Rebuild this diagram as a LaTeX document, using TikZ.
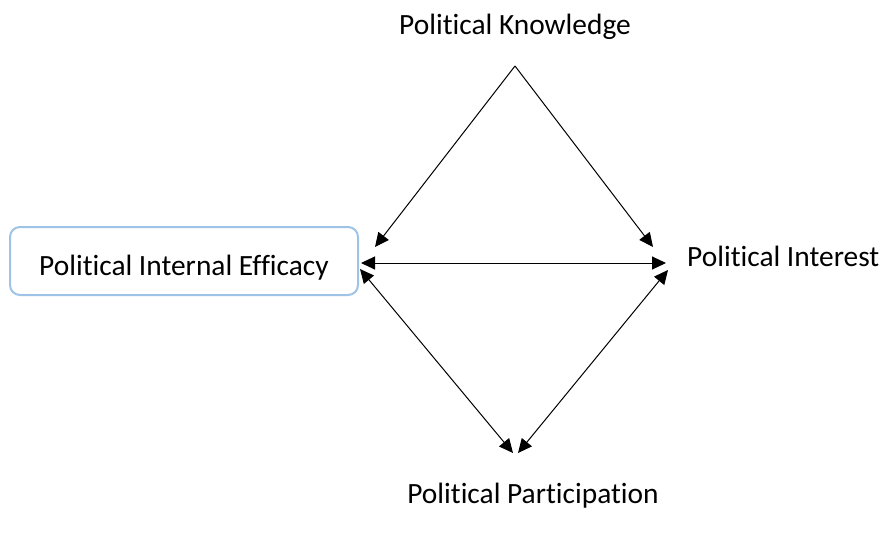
\documentclass[tikz,border=0pt]{standalone}
\usepackage{fontspec}
\setmainfont{Carlito}[Ligatures={NoCommon}]
\usetikzlibrary{arrows.meta}
\definecolor{boxblue}{HTML}{9DC3E6}
\begin{document}
\begin{tikzpicture}[x=1pt,y=-1pt,
  lbl/.style={font=\fontsize{29.4}{34}\selectfont, inner sep=0pt, anchor=base},
  conn/.style={line width=1pt, -{Triangle[length=14pt,width=13pt]}},
  bconn/.style={line width=1pt, {Triangle[length=14pt,width=13pt]}-{Triangle[length=14pt,width=13pt]}},
  efbox/.style={draw=boxblue, line width=2pt, rounded corners=10pt, minimum width=348pt, minimum height=68pt}]
\useasboundingbox (0,0) rectangle (882,548);
\node[lbl] (know) at (515,35) {Political Knowledge};
\node[efbox] (eff) at (184,261) {};
\node[lbl] (efft) at (184,275) {Political Internal Efficacy};
\node[lbl, anchor=base west] (int) at (687,266) {Political Interest};
\node[lbl] (part) at (533,503) {Political Participation};
\coordinate (apex) at (515,66);
\coordinate (kl) at (375,247);
\coordinate (kr) at (653,247);
\coordinate (el) at (361,263);
\coordinate (er) at (666,263);
\coordinate (eb) at (360,269);
\coordinate (pl) at (513,453);
\coordinate (pr) at (518,453);
\coordinate (ib) at (668,270);
\draw[conn] (apex) -- (kl);
\draw[conn] (apex) -- (kr);
\draw[bconn] (el) -- (er);
\draw[bconn] (eb) -- (pl);
\draw[bconn] (ib) -- (pr);
\end{tikzpicture}
\end{document}
